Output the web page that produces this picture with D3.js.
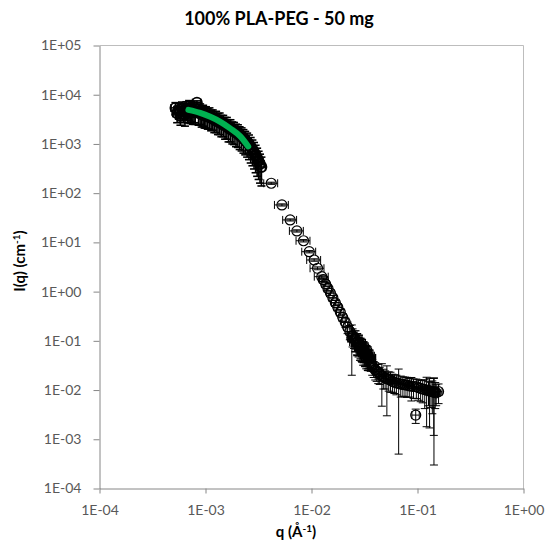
<!DOCTYPE html>
<html><head><meta charset="utf-8">
<script src="https://cdn.jsdelivr.net/npm/d3@7"></script>
<style>body{margin:0;background:#fff}svg{display:block}</style>
</head><body>
<svg id="c" width="547" height="556"></svg>
<script>
// ---------- data ----------
const chartTitle = "100% PLA-PEG - 50 mg";
const xTickValues = [1e-4, 1e-3, 1e-2, 1e-1, 1];
const yTickValues = [1e-4, 1e-3, 1e-2, 1e-1, 1, 1e1, 1e2, 1e3, 1e4, 1e5];

// dense low-q data (q in 1/Å, I in 1/cm)
const usaxsQ = [5.2e-4,5.4e-4,5.6e-4,5.8e-4,6.0e-4,6.2e-4,6.4e-4,6.6e-4,6.8e-4,7.0e-4,
  7.2e-4,7.4e-4,7.6e-4,7.8e-4,8.0e-4,8.3e-4,8.6e-4,8.9e-4,9.2e-4,9.5e-4,
  9.8e-4,1.01e-3,1.05e-3,1.09e-3,1.13e-3,1.17e-3,1.21e-3,1.26e-3,1.31e-3,1.36e-3,
  1.41e-3,1.47e-3,1.53e-3,1.59e-3,1.65e-3,1.72e-3,1.79e-3,1.86e-3,1.94e-3,2.02e-3,
  2.10e-3,2.19e-3,2.28e-3,2.37e-3,2.47e-3,2.57e-3,2.67e-3,2.77e-3,2.87e-3,2.97e-3,
  3.07e-3,3.17e-3,3.27e-3,3.37e-3];
const usaxsI = [5400,4200,5000,3700,5200,4600,3900,5100,4700,5300,
  4600,5000,4500,4800,4400,6900,4300,4500,4000,4200,
  3800,3900,3600,3700,3350,3400,3100,3150,2850,2900,
  2600,2600,2350,2350,2100,2100,1900,1850,1700,1650,
  1500,1420,1300,1200,1100,1000,880,780,690,600,
  520,450,390,340];
const usaxsErr = [1500,1500,1800,1300,1900,1900,1600,2100,2000,2300,
  2000,2200,2000,2100,1900,600,1900,2000,1800,1900,
  1700,1800,1600,1700,1500,1500,1400,1450,1300,1350,
  1200,1200,1100,1100,1000,1000,900,880,820,800,
  730,700,650,600,560,520,470,420,380,340,
  300,260,230,200];
const usaxsDqRel = 0.09;

// sparse intermediate points
const midQ = [4.17e-3,5.26e-3,6.29e-3,7.28e-3,8.41e-3,9.52e-3,1.06e-2,1.14e-2,1.25e-2];
const midI = [159,57.7,28.6,17.1,10.8,6.47,4.39,2.98,2.01];
const midErr = [8,2.9,1.4,0.9,0.6,0.35,0.25,0.2,0.15];
const midDqRel = 0.15;

// high-q data
const saxsQ = [1.29e-2,1.36e-2,1.43e-2,1.51e-2,1.59e-2,1.68e-2,1.77e-2,1.87e-2,1.97e-2,2.08e-2,
  2.19e-2,2.30e-2,2.40e-2,2.44e-2,2.52e-2,2.60e-2,2.69e-2,2.78e-2,2.87e-2,2.97e-2,
  3.07e-2,3.17e-2,3.28e-2,3.39e-2,
  0.0350,0.0362,0.0374,0.0386,0.0399,0.0412,0.0426,0.0440,0.0461,0.0476,
  0.0495,0.0514,0.0535,0.0556,0.0580,0.0605,0.0632,0.0664,0.0695,0.0728,
  0.0762,0.0798,0.0836,0.0876,0.0918,0.0962,0.0975,0.1020,0.1070,0.1120,
  0.1170,0.1219,0.1270,0.1300,0.1340,0.1380,0.1426,0.1430,0.1470,0.1500,0.1580];
const saxsI = [1.75,1.42,1.16,0.93,0.75,0.59,0.48,0.38,0.30,0.24,
  0.19,0.155,0.115,0.125,0.11,0.10,0.092,0.082,0.075,0.068,
  0.062,0.057,0.052,0.047,
  0.042,0.036,0.031,0.028,0.026,0.024,0.0235,0.021,0.0195,0.0185,
  0.0175,0.017,0.0165,0.016,0.015,0.0145,0.014,0.0136,0.0132,0.013,
  0.0128,0.0126,0.0122,0.0120,0.0118,0.0031,0.0117,0.0112,0.0108,0.0105,
  0.0102,0.0100,0.0098,0.0095,0.0094,0.0093,0.0092,0.0090,0.0092,0.0088,0.0093];
const saxsErr = [0.15,0.12,0.10,0.09,0.08,0.07,0.06,0.05,0.05,0.05,
  0.05,0.05,0.095,0.05,0.04,0.04,0.04,0.035,0.035,0.03,
  0.03,0.025,0.025,0.02,
  0.015,0.012,0.011,0.010,0.010,0.009,0.010,0.008,0.0148,0.008,
  0.007,0.014,0.007,0.007,0.006,0.006,0.006,0.0131,0.006,0.0055,
  0.0055,0.0055,0.005,0.006,0.005,0.001,0.005,0.005,0.005,0.005,
  0.006,0.0082,0.005,0.0078,0.005,0.006,0.0080,0.0087,0.005,0.004,0.004];
const saxsDqRel = 0.08;

// overlapping points forming the dark cluster near q = 0.03
const tailQ = [2.6e-2,2.7e-2,2.8e-2,2.9e-2,3.0e-2,3.1e-2,3.2e-2,3.3e-2,3.4e-2,3.5e-2];
const tailI = [0.11,0.095,0.09,0.078,0.072,0.066,0.06,0.055,0.05,0.045];
const tailErr = [0.05,0.045,0.04,0.035,0.035,0.03,0.03,0.025,0.025,0.02];
const tailDqRel = 0.15;

// model fit (green line)
const fitQ = [6.9e-4, 8.9e-4, 1.11e-3, 1.38e-3, 1.71e-3, 2.13e-3, 2.53e-3];
const fitI = [4930, 4280, 3550, 2810, 2070, 1425, 890];

// ---------- drawing ----------
const svg = d3.select('#c');
const L = 99.5, R = 523.5, T = 45.5, B = 488.5;
const x = d3.scaleLog().domain([1e-4, 1]).range([L, R]);
const y = d3.scaleLog().domain([1e-4, 1e5]).range([B, T]);
const FONT = "Lato, 'Open Sans', sans-serif";
const axisCol = '#868686';

function expFmt(v) {
  const e = Math.round(Math.log10(v));
  const s = String(Math.abs(e)).padStart(2, '0');
  return '1E' + (e >= 0 ? '+' : '-') + s;
}

// plot-area border (top / right)
svg.append('path').attr('d', `M${L},${T}H${R}V${B}`)
  .attr('fill', 'none').attr('stroke', '#bdbdbd').attr('stroke-width', 1);

const gx = svg.append('g').attr('transform', `translate(0,${B})`)
  .call(d3.axisBottom(x).tickValues(xTickValues).tickFormat(expFmt)
    .tickSize(5).tickSizeOuter(0).tickPadding(12));
const gy = svg.append('g').attr('transform', `translate(${L},0)`)
  .call(d3.axisLeft(y).tickValues(yTickValues).tickFormat(expFmt)
    .tickSize(6).tickSizeOuter(0).tickPadding(12));
[gx, gy].forEach(g => {
  g.select('.domain').attr('stroke', axisCol);
  g.selectAll('.tick line').attr('stroke', axisCol);
  g.selectAll('.tick text').attr('fill', '#595959')
    .style('font-family', FONT).style('font-size', '14px');
});

const dataG = svg.append('g');
function drawSet(qArr, iArr, errArr, dqRel, sw) {
  const cap = 4;
  const eb = dataG.append('g').attr('stroke', '#000').attr('stroke-width', sw).attr('fill', 'none');
  qArr.forEach((q, k) => {
    const I = iArr[k], e = errArr[k];
    const px = x(q), py = y(I);
    const hi = y(I + e);
    const loVal = I - e;
    const lo = loVal > 1e-4 ? y(loVal) : B;
    eb.append('line').attr('x1', px).attr('x2', px).attr('y1', hi).attr('y2', lo);
    eb.append('line').attr('x1', px - cap).attr('x2', px + cap).attr('y1', hi).attr('y2', hi);
    if (loVal > 1e-4) eb.append('line').attr('x1', px - cap).attr('x2', px + cap).attr('y1', lo).attr('y2', lo);
    const xl = x(q * (1 - dqRel)), xr = x(q * (1 + dqRel));
    eb.append('line').attr('x1', xl).attr('x2', xr).attr('y1', py).attr('y2', py);
    eb.append('line').attr('x1', xl).attr('x2', xl).attr('y1', py - cap).attr('y2', py + cap);
    eb.append('line').attr('x1', xr).attr('x2', xr).attr('y1', py - cap).attr('y2', py + cap);
  });
  dataG.append('g').selectAll('circle').data(qArr).join('circle')
    .attr('cx', d => x(d)).attr('cy', (d, k) => y(iArr[k])).attr('r', 5)
    .attr('fill', 'none').attr('stroke', '#000').attr('stroke-width', sw + 0.2);
}
drawSet(usaxsQ, usaxsI, usaxsErr, usaxsDqRel, 1.6);
drawSet(midQ, midI, midErr, midDqRel, 1);
drawSet(saxsQ, saxsI, saxsErr, saxsDqRel, 1);
drawSet(tailQ, tailI, tailErr, tailDqRel, 1.3);

// fit line
svg.append('path').datum(fitQ.map((q, k) => [q, fitI[k]]))
  .attr('d', d3.line().x(d => x(d[0])).y(d => y(d[1])).curve(d3.curveMonotoneX))
  .attr('fill', 'none').attr('stroke', '#00B050').attr('stroke-width', 6)
  .attr('stroke-linecap', 'round');

// titles
svg.append('text').attr('x', 279).attr('y', 25).attr('text-anchor', 'middle')
  .style('font-family', FONT).style('font-size', '18px').style('font-weight', 'bold')
  .attr('fill', '#000').text(chartTitle);

const xt = svg.append('text').attr('x', 296).attr('y', 537).attr('text-anchor', 'middle')
  .style('font-family', FONT).style('font-size', '15px').style('font-weight', 'bold').attr('fill', '#000');
xt.append('tspan').text('q (Å');
xt.append('tspan').attr('dy', -5).style('font-size', '10px').text('-1');
xt.append('tspan').attr('dy', 5).text(')');

const yt = svg.append('text').attr('transform', 'translate(25,261) rotate(-90)').attr('text-anchor', 'middle')
  .style('font-family', FONT).style('font-size', '15px').style('font-weight', 'bold').attr('fill', '#000');
yt.append('tspan').text('I(q) (cm');
yt.append('tspan').attr('dy', -5).style('font-size', '10px').text('-1');
yt.append('tspan').attr('dy', 5).text(')');
</script>
</body></html>
